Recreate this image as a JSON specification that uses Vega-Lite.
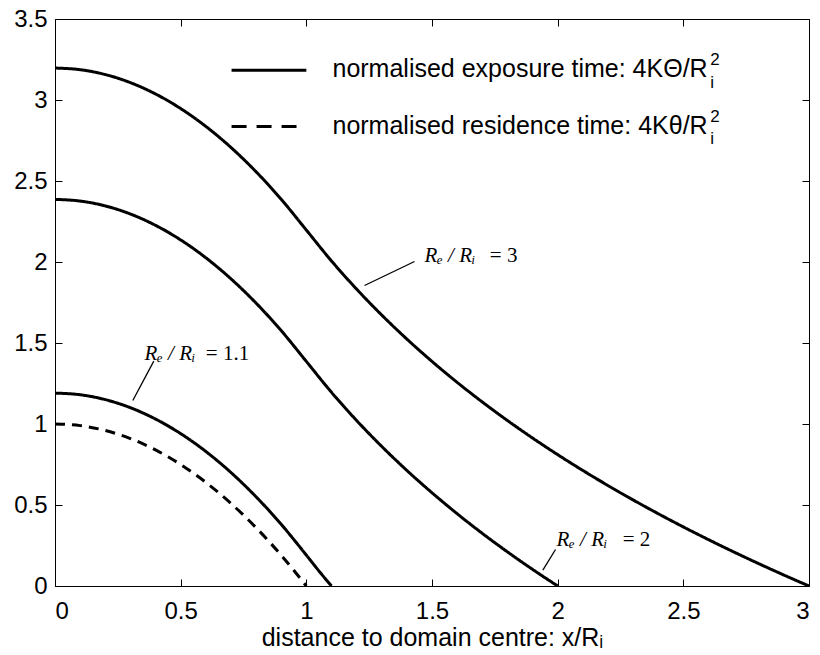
{
  "$schema": "https://vega.github.io/schema/vega-lite/v6.json",
  "width": 754,
  "height": 567,
  "autosize": {"type": "none"},
  "padding": {"left": 55, "top": 19, "right": 11, "bottom": 69},
  "background": "white",
  "config": {
    "view": {"stroke": null},
    "axis": {
      "grid": false,
      "domainColor": "black",
      "domainWidth": 1,
      "tickColor": "black",
      "tickWidth": 1,
      "tickSize": -7,
      "labelColor": "black",
      "titleColor": "black",
      "labelFont": "Liberation Sans",
      "titleFont": "Liberation Sans",
      "labelFontSize": 24,
      "titleFontSize": 25,
      "titleFontWeight": "normal"
    }
  },
  "datasets": {
    "curves": [
      {"x": 0, "y": 3.1972, "curve": "Re/Ri=3", "kind": "exposure"},
      {"x": 0.1, "y": 3.1872, "curve": "Re/Ri=3", "kind": "exposure"},
      {"x": 0.2, "y": 3.1572, "curve": "Re/Ri=3", "kind": "exposure"},
      {"x": 0.3, "y": 3.1072, "curve": "Re/Ri=3", "kind": "exposure"},
      {"x": 0.4, "y": 3.0372, "curve": "Re/Ri=3", "kind": "exposure"},
      {"x": 0.5, "y": 2.9472, "curve": "Re/Ri=3", "kind": "exposure"},
      {"x": 0.6, "y": 2.8372, "curve": "Re/Ri=3", "kind": "exposure"},
      {"x": 0.7, "y": 2.7072, "curve": "Re/Ri=3", "kind": "exposure"},
      {"x": 0.8, "y": 2.5572, "curve": "Re/Ri=3", "kind": "exposure"},
      {"x": 0.9, "y": 2.3872, "curve": "Re/Ri=3", "kind": "exposure"},
      {"x": 1.0, "y": 2.1972, "curve": "Re/Ri=3", "kind": "exposure"},
      {"x": 1.1, "y": 2.0066, "curve": "Re/Ri=3", "kind": "exposure"},
      {"x": 1.2, "y": 1.8326, "curve": "Re/Ri=3", "kind": "exposure"},
      {"x": 1.3, "y": 1.6725, "curve": "Re/Ri=3", "kind": "exposure"},
      {"x": 1.4, "y": 1.5243, "curve": "Re/Ri=3", "kind": "exposure"},
      {"x": 1.5, "y": 1.3863, "curve": "Re/Ri=3", "kind": "exposure"},
      {"x": 1.6, "y": 1.2572, "curve": "Re/Ri=3", "kind": "exposure"},
      {"x": 1.7, "y": 1.1360, "curve": "Re/Ri=3", "kind": "exposure"},
      {"x": 1.8, "y": 1.0217, "curve": "Re/Ri=3", "kind": "exposure"},
      {"x": 1.9, "y": 0.9135, "curve": "Re/Ri=3", "kind": "exposure"},
      {"x": 2.0, "y": 0.8109, "curve": "Re/Ri=3", "kind": "exposure"},
      {"x": 2.1, "y": 0.7133, "curve": "Re/Ri=3", "kind": "exposure"},
      {"x": 2.2, "y": 0.6203, "curve": "Re/Ri=3", "kind": "exposure"},
      {"x": 2.3, "y": 0.5314, "curve": "Re/Ri=3", "kind": "exposure"},
      {"x": 2.4, "y": 0.4463, "curve": "Re/Ri=3", "kind": "exposure"},
      {"x": 2.5, "y": 0.3646, "curve": "Re/Ri=3", "kind": "exposure"},
      {"x": 2.6, "y": 0.2862, "curve": "Re/Ri=3", "kind": "exposure"},
      {"x": 2.7, "y": 0.2107, "curve": "Re/Ri=3", "kind": "exposure"},
      {"x": 2.8, "y": 0.1380, "curve": "Re/Ri=3", "kind": "exposure"},
      {"x": 2.9, "y": 0.0678, "curve": "Re/Ri=3", "kind": "exposure"},
      {"x": 3.0, "y": 0, "curve": "Re/Ri=3", "kind": "exposure"},
      {"x": 0, "y": 2.3863, "curve": "Re/Ri=2", "kind": "exposure"},
      {"x": 0.1, "y": 2.3763, "curve": "Re/Ri=2", "kind": "exposure"},
      {"x": 0.2, "y": 2.3463, "curve": "Re/Ri=2", "kind": "exposure"},
      {"x": 0.3, "y": 2.2963, "curve": "Re/Ri=2", "kind": "exposure"},
      {"x": 0.4, "y": 2.2263, "curve": "Re/Ri=2", "kind": "exposure"},
      {"x": 0.5, "y": 2.1363, "curve": "Re/Ri=2", "kind": "exposure"},
      {"x": 0.6, "y": 2.0263, "curve": "Re/Ri=2", "kind": "exposure"},
      {"x": 0.7, "y": 1.8963, "curve": "Re/Ri=2", "kind": "exposure"},
      {"x": 0.8, "y": 1.7463, "curve": "Re/Ri=2", "kind": "exposure"},
      {"x": 0.9, "y": 1.5763, "curve": "Re/Ri=2", "kind": "exposure"},
      {"x": 1.0, "y": 1.3863, "curve": "Re/Ri=2", "kind": "exposure"},
      {"x": 1.1, "y": 1.1957, "curve": "Re/Ri=2", "kind": "exposure"},
      {"x": 1.2, "y": 1.0217, "curve": "Re/Ri=2", "kind": "exposure"},
      {"x": 1.3, "y": 0.8616, "curve": "Re/Ri=2", "kind": "exposure"},
      {"x": 1.4, "y": 0.7133, "curve": "Re/Ri=2", "kind": "exposure"},
      {"x": 1.5, "y": 0.5754, "curve": "Re/Ri=2", "kind": "exposure"},
      {"x": 1.6, "y": 0.4463, "curve": "Re/Ri=2", "kind": "exposure"},
      {"x": 1.7, "y": 0.3250, "curve": "Re/Ri=2", "kind": "exposure"},
      {"x": 1.8, "y": 0.2107, "curve": "Re/Ri=2", "kind": "exposure"},
      {"x": 1.9, "y": 0.1026, "curve": "Re/Ri=2", "kind": "exposure"},
      {"x": 2.0, "y": 0, "curve": "Re/Ri=2", "kind": "exposure"},
      {"x": 0, "y": 1.1906, "curve": "Re/Ri=1.1", "kind": "exposure"},
      {"x": 0.1, "y": 1.1806, "curve": "Re/Ri=1.1", "kind": "exposure"},
      {"x": 0.2, "y": 1.1506, "curve": "Re/Ri=1.1", "kind": "exposure"},
      {"x": 0.3, "y": 1.1006, "curve": "Re/Ri=1.1", "kind": "exposure"},
      {"x": 0.4, "y": 1.0306, "curve": "Re/Ri=1.1", "kind": "exposure"},
      {"x": 0.5, "y": 0.9406, "curve": "Re/Ri=1.1", "kind": "exposure"},
      {"x": 0.6, "y": 0.8306, "curve": "Re/Ri=1.1", "kind": "exposure"},
      {"x": 0.7, "y": 0.7006, "curve": "Re/Ri=1.1", "kind": "exposure"},
      {"x": 0.8, "y": 0.5506, "curve": "Re/Ri=1.1", "kind": "exposure"},
      {"x": 0.9, "y": 0.3806, "curve": "Re/Ri=1.1", "kind": "exposure"},
      {"x": 1.0, "y": 0.1906, "curve": "Re/Ri=1.1", "kind": "exposure"},
      {"x": 1.05, "y": 0.0930, "curve": "Re/Ri=1.1", "kind": "exposure"},
      {"x": 1.1, "y": 0, "curve": "Re/Ri=1.1", "kind": "exposure"},
      {"x": 0, "y": 1.0, "curve": "residence", "kind": "residence"},
      {"x": 0.1, "y": 0.99, "curve": "residence", "kind": "residence"},
      {"x": 0.2, "y": 0.96, "curve": "residence", "kind": "residence"},
      {"x": 0.3, "y": 0.91, "curve": "residence", "kind": "residence"},
      {"x": 0.4, "y": 0.84, "curve": "residence", "kind": "residence"},
      {"x": 0.5, "y": 0.75, "curve": "residence", "kind": "residence"},
      {"x": 0.6, "y": 0.64, "curve": "residence", "kind": "residence"},
      {"x": 0.7, "y": 0.51, "curve": "residence", "kind": "residence"},
      {"x": 0.8, "y": 0.36, "curve": "residence", "kind": "residence"},
      {"x": 0.9, "y": 0.19, "curve": "residence", "kind": "residence"},
      {"x": 1.0, "y": 0, "curve": "residence", "kind": "residence"}
    ]
  },
  "resolve": {"axis": {"x": "independent", "y": "independent"}},
  "layer": [
    {
      "data": {"name": "curves"},
      "mark": {"type": "line", "strokeWidth": 3, "color": "black", "interpolate": "monotone", "clip": true},
      "encoding": {
        "x": {
          "field": "x", "type": "quantitative",
          "scale": {"domain": [0, 3], "nice": false, "zero": false},
          "axis": {"orient": "bottom", "values": [0, 0.5, 1, 1.5, 2, 2.5, 3], "format": "~g", "labelPadding": 20, "titlePadding": 2, "title": "distance to domain centre: x/Rᵢ"}
        },
        "y": {
          "field": "y", "type": "quantitative",
          "scale": {"domain": [0, 3.5], "nice": false, "zero": false},
          "axis": {"orient": "left", "values": [0, 0.5, 1, 1.5, 2, 2.5, 3, 3.5], "format": "~g", "labelPadding": 15, "title": null}
        },
        "detail": {"field": "curve"},
        "strokeDash": {
          "field": "kind", "type": "nominal",
          "scale": {"domain": ["exposure", "residence"], "range": [[1, 0], [10, 7]]},
          "legend": null
        }
      }
    },
    {
      "data": {"name": "curves"},
      "mark": {"type": "point", "opacity": 0},
      "encoding": {
        "x": {"field": "x", "type": "quantitative", "axis": {"orient": "top", "values": [0, 0.5, 1, 1.5, 2, 2.5, 3], "labels": false, "title": null}},
        "y": {"field": "y", "type": "quantitative", "axis": {"orient": "right", "values": [0, 0.5, 1, 1.5, 2, 2.5, 3, 3.5], "labels": false, "title": null}}
      }
    },
    {
      "data": {"values": [{}]},
      "mark": {"type": "rule", "strokeWidth": 3, "color": "black"},
      "encoding": {
        "x": {"datum": 0.7025, "type": "quantitative", "axis": null},
        "x2": {"datum": 1.0},
        "y": {"datum": 3.184, "type": "quantitative", "axis": null}
      }
    },
    {
      "data": {"values": [{}]},
      "mark": {"type": "rule", "strokeWidth": 3, "color": "black", "strokeDash": [15, 10]},
      "encoding": {
        "x": {"datum": 0.7025, "type": "quantitative", "axis": null},
        "x2": {"datum": 0.961},
        "y": {"datum": 2.836, "type": "quantitative", "axis": null}
      }
    },
    {
      "data": {"values": [{}]},
      "mark": {"type": "text", "font": "Liberation Sans", "fontSize": 25, "align": "left", "baseline": "middle", "color": "black"},
      "encoding": {
        "x": {"datum": 1.104, "type": "quantitative", "axis": null},
        "y": {"datum": 3.19, "type": "quantitative", "axis": null},
        "text": {"value": "normalised exposure time: 4KΘ/R"}
      }
    },
    {
      "data": {"values": [{}]},
      "mark": {"type": "text", "font": "Liberation Sans", "fontSize": 25, "align": "left", "baseline": "middle", "color": "black"},
      "encoding": {
        "x": {"datum": 1.104, "type": "quantitative", "axis": null},
        "y": {"datum": 2.842, "type": "quantitative", "axis": null},
        "text": {"value": "normalised residence time: 4Kθ/R"}
      }
    },
    {
      "data": {"values": [{}]},
      "mark": {"type": "text", "font": "Liberation Sans", "fontSize": 17, "align": "left", "baseline": "alphabetic", "color": "black"},
      "encoding": {
        "x": {"datum": 2.607, "type": "quantitative", "axis": null},
        "y": {"datum": 3.215, "type": "quantitative", "axis": null},
        "text": {"value": "2"}
      }
    },
    {
      "data": {"values": [{}]},
      "mark": {"type": "text", "font": "Liberation Sans", "fontSize": 17, "align": "left", "baseline": "alphabetic", "color": "black"},
      "encoding": {
        "x": {"datum": 2.607, "type": "quantitative", "axis": null},
        "y": {"datum": 3.075, "type": "quantitative", "axis": null},
        "text": {"value": "i"}
      }
    },
    {
      "data": {"values": [{}]},
      "mark": {"type": "text", "font": "Liberation Sans", "fontSize": 17, "align": "left", "baseline": "alphabetic", "color": "black"},
      "encoding": {
        "x": {"datum": 2.607, "type": "quantitative", "axis": null},
        "y": {"datum": 2.867, "type": "quantitative", "axis": null},
        "text": {"value": "2"}
      }
    },
    {
      "data": {"values": [{}]},
      "mark": {"type": "text", "font": "Liberation Sans", "fontSize": 17, "align": "left", "baseline": "alphabetic", "color": "black"},
      "encoding": {
        "x": {"datum": 2.607, "type": "quantitative", "axis": null},
        "y": {"datum": 2.727, "type": "quantitative", "axis": null},
        "text": {"value": "i"}
      }
    },
    {
      "data": {"values": [{}]},
      "mark": {"type": "rule", "strokeWidth": 1.3, "color": "black"},
      "encoding": {
        "x": {"datum": 1.2315, "type": "quantitative", "axis": null},
        "y": {"datum": 1.855, "type": "quantitative", "axis": null},
        "x2": {"datum": 1.4305},
        "y2": {"datum": 2.003}
      }
    },
    {
      "data": {"values": [{}]},
      "mark": {"type": "rule", "strokeWidth": 1.3, "color": "black"},
      "encoding": {
        "x": {"datum": 0.3096, "type": "quantitative", "axis": null},
        "y": {"datum": 1.145, "type": "quantitative", "axis": null},
        "x2": {"datum": 0.393},
        "y2": {"datum": 1.388}
      }
    },
    {
      "data": {"values": [{}]},
      "mark": {"type": "rule", "strokeWidth": 1.3, "color": "black"},
      "encoding": {
        "x": {"datum": 1.941, "type": "quantitative", "axis": null},
        "y": {"datum": 0.0975, "type": "quantitative", "axis": null},
        "x2": {"datum": 1.9915},
        "y2": {"datum": 0.2253}
      }
    },
    {
      "data": {"values": [{}]},
      "mark": {"type": "text", "font": "Liberation Serif", "fontStyle": "italic", "fontSize": 21, "align": "left", "baseline": "alphabetic", "color": "black"},
      "encoding": {
        "x": {"datum": 1.47, "type": "quantitative", "axis": null},
        "y": {"datum": 2.003, "type": "quantitative", "axis": null},
        "text": {"value": "Rₑ / Rᵢ"}
      }
    },
    {
      "data": {"values": [{}]},
      "mark": {"type": "text", "font": "Liberation Serif", "fontSize": 21, "align": "left", "baseline": "alphabetic", "color": "black"},
      "encoding": {
        "x": {"datum": 1.73, "type": "quantitative", "axis": null},
        "y": {"datum": 2.003, "type": "quantitative", "axis": null},
        "text": {"value": "= 3"}
      }
    },
    {
      "data": {"values": [{}]},
      "mark": {"type": "text", "font": "Liberation Serif", "fontStyle": "italic", "fontSize": 21, "align": "left", "baseline": "alphabetic", "color": "black"},
      "encoding": {
        "x": {"datum": 0.356, "type": "quantitative", "axis": null},
        "y": {"datum": 1.398, "type": "quantitative", "axis": null},
        "text": {"value": "Rₑ / Rᵢ"}
      }
    },
    {
      "data": {"values": [{}]},
      "mark": {"type": "text", "font": "Liberation Serif", "fontSize": 21, "align": "left", "baseline": "alphabetic", "color": "black"},
      "encoding": {
        "x": {"datum": 0.6, "type": "quantitative", "axis": null},
        "y": {"datum": 1.398, "type": "quantitative", "axis": null},
        "text": {"value": "= 1.1"}
      }
    },
    {
      "data": {"values": [{}]},
      "mark": {"type": "text", "font": "Liberation Serif", "fontStyle": "italic", "fontSize": 21, "align": "left", "baseline": "alphabetic", "color": "black"},
      "encoding": {
        "x": {"datum": 1.9955, "type": "quantitative", "axis": null},
        "y": {"datum": 0.25, "type": "quantitative", "axis": null},
        "text": {"value": "Rₑ / Rᵢ"}
      }
    },
    {
      "data": {"values": [{}]},
      "mark": {"type": "text", "font": "Liberation Serif", "fontSize": 21, "align": "left", "baseline": "alphabetic", "color": "black"},
      "encoding": {
        "x": {"datum": 2.259, "type": "quantitative", "axis": null},
        "y": {"datum": 0.25, "type": "quantitative", "axis": null},
        "text": {"value": "= 2"}
      }
    }
  ]
}
